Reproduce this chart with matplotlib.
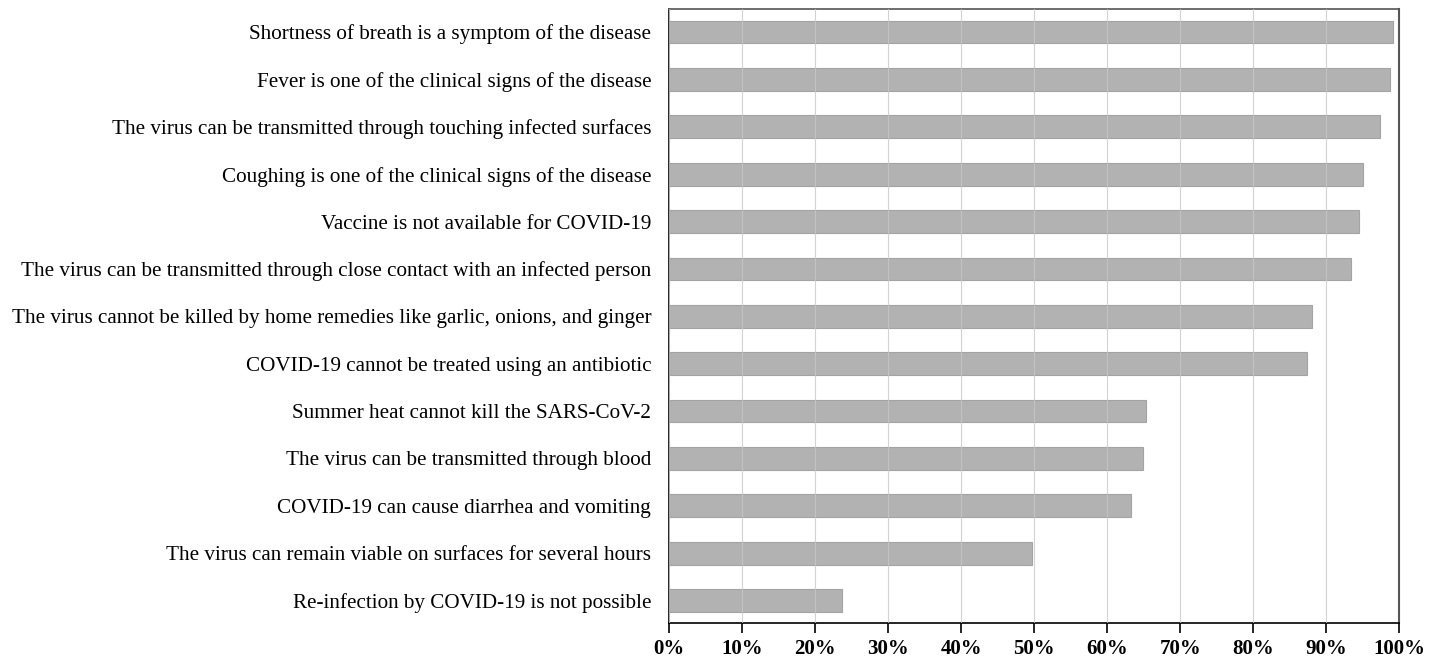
import matplotlib
matplotlib.use("Agg")
import matplotlib.pyplot as plt
from matplotlib.ticker import FuncFormatter

labels = [
    "Shortness of breath is a symptom of the disease",
    "Fever is one of the clinical signs of the disease",
    "The virus can be transmitted through touching infected surfaces",
    "Coughing is one of the clinical signs of the disease",
    "Vaccine is not available for COVID-19",
    "The virus can be transmitted through close contact with an infected person",
    "The virus cannot be killed by home remedies like garlic, onions, and ginger",
    "COVID-19 cannot be treated using an antibiotic",
    "Summer heat cannot kill the SARS-CoV-2",
    "The virus can be transmitted through blood",
    "COVID-19 can cause diarrhea and vomiting",
    "The virus can remain viable on surfaces for several hours",
    "Re-infection by COVID-19 is not possible",
]
values = [99.2, 98.8, 97.3, 95.1, 94.5, 93.4, 88.1, 87.4, 65.3, 64.9, 63.3, 49.7, 23.7]
xticks = [0, 10, 20, 30, 40, 50, 60, 70, 80, 90, 100]

plt.rcParams['font.family'] = ['Liberation Serif', 'DejaVu Serif']

fig = plt.figure(figsize=(14.44, 6.58), dpi=100)
ax = fig.add_axes([0.4635, 0.0527, 0.5055, 0.9332])

ypos = list(range(len(labels)))
ax.barh(ypos, values, height=0.48, color='#b2b2b2', edgecolor='#a3a3a3', linewidth=0.8, zorder=2)

ax.set_xlim(0, 100)
ax.set_ylim(len(labels) - 1 + 0.48, -0.48)
ax.set_yticks(ypos)
ax.set_yticklabels(labels, fontsize=15.2)
ax.tick_params(axis='y', length=0, pad=13)
ax.set_xticks(xticks)
ax.xaxis.set_major_formatter(FuncFormatter(lambda v, p: f"{int(v)}%"))
ax.tick_params(axis='x', direction='out', length=7, width=1.2, pad=4, labelsize=15)
for t in ax.get_xticklabels():
    t.set_fontweight('bold')

ax.grid(axis='x', color='#c8c8c8', linewidth=0.8, alpha=0.8, zorder=3)
ax.set_axisbelow(False)
ax.grid(axis='y', visible=False)

ax.spines['left'].set_color('black')
ax.spines['left'].set_linewidth(1.2)
ax.spines['bottom'].set_color('black')
ax.spines['bottom'].set_linewidth(1.2)
ax.spines['top'].set_color('#555555')
ax.spines['top'].set_linewidth(1.2)
ax.spines['right'].set_color('#555555')
ax.spines['right'].set_linewidth(1.5)

fig.savefig("out.png", dpi=100, facecolor='white')
